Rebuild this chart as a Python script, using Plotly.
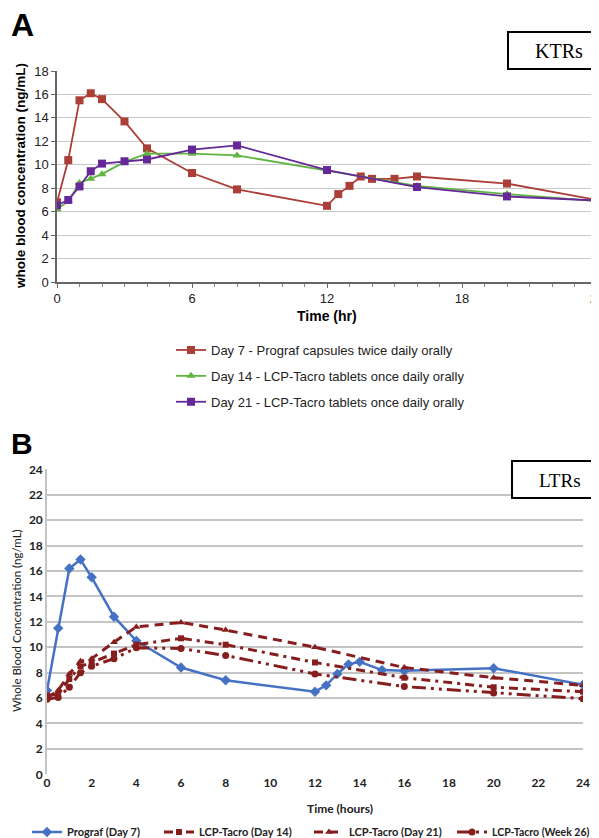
import plotly.graph_objects as go

# The page places the figure 8px in from the top-left corner of the window,
# so all reference pixel positions are converted with that offset.
OFF = 8
W, H = 599 - OFF, 838 - OFF
def px(x): return (x - OFF) / W
def py(y): return 1 - (y - OFF) / H

# ---------- Panel A data (KTRs) ----------
a_t_prograf = [0, 0.5, 1, 1.5, 2, 3, 4, 6, 8, 12, 12.5, 13, 13.5, 14, 15, 16, 20, 24]
a_c_prograf = [6.8, 10.4, 15.5, 16.1, 15.6, 13.7, 11.4, 9.3, 7.9, 6.5, 7.5, 8.2, 9.0, 8.8, 8.8, 9.0, 8.4, 7.0]
a_t_lcp = [0, 0.5, 1, 1.5, 2, 3, 4, 6, 8, 12, 16, 20, 24]
a_c_day14 = [6.2, 6.9, 8.45, 8.8, 9.2, 10.25, 10.95, 10.95, 10.8, 9.5, 8.2, 7.5, 6.9]
a_c_day21 = [6.55, 7.0, 8.15, 9.45, 10.1, 10.3, 10.45, 11.3, 11.65, 9.55, 8.1, 7.3, 6.95]
a_names = ["Day 7 - Prograf capsules twice daily orally",
           "Day 14 - LCP-Tacro tablets once daily orally",
           "Day 21 - LCP-Tacro tablets once daily orally"]

# ---------- Panel B data (LTRs) ----------
b_t_prograf = [0, 0.5, 1, 1.5, 2, 3, 4, 6, 8, 12, 12.5, 13, 13.5, 14, 15, 16, 20, 24]
b_c_prograf = [6.6, 11.5, 16.2, 16.9, 15.5, 12.4, 10.5, 8.4, 7.4, 6.5, 7.0, 7.9, 8.65, 8.85, 8.2, 8.15, 8.35, 7.05]
b_t_lcp = [0, 0.5, 1, 1.5, 2, 3, 4, 6, 8, 12, 16, 20, 24]
b_c_day14 = [6.2, 6.3, 7.5, 8.5, 8.8, 9.5, 10.2, 10.7, 10.2, 8.8, 7.6, 6.85, 6.5]
b_c_day21 = [6.0, 6.6, 7.9, 8.9, 9.1, 10.4, 11.6, 11.95, 11.35, 10.0, 8.4, 7.6, 7.0]
b_c_week26 = [5.9, 6.05, 6.85, 8.0, 8.5, 9.1, 9.95, 9.9, 9.35, 7.9, 6.9, 6.4, 5.95]
b_names = ["Prograf (Day 7)", "LCP-Tacro (Day 14)", "LCP-Tacro (Day 21)", "LCP-Tacro (Week 26)"]

RED_A = "rgb(172,62,56)"
GREEN_A = "rgb(96,180,64)"
PURPLE_A = "rgb(102,40,152)"
BLUE_B = "rgb(70,114,196)"
DRED_B = "rgb(135,30,30)"

fig = go.Figure()

# Panel A traces
fig.add_trace(go.Scatter(x=a_t_prograf, y=a_c_prograf, name=a_names[0], mode="lines+markers",
                         line=dict(color=RED_A, width=1.8), marker=dict(symbol="square", size=8, color=RED_A),
                         xaxis="x", yaxis="y", legend="legend", legendgroup="a1"))
fig.add_trace(go.Scatter(x=a_t_lcp, y=a_c_day14, name=a_names[1], mode="lines+markers",
                         line=dict(color=GREEN_A, width=1.8), marker=dict(symbol="triangle-up", size=8, color=GREEN_A),
                         xaxis="x", yaxis="y", legend="legend", legendgroup="a2"))
fig.add_trace(go.Scatter(x=a_t_lcp, y=a_c_day21, name=a_names[2], mode="lines+markers",
                         line=dict(color=PURPLE_A, width=1.8), marker=dict(symbol="square", size=8, color=PURPLE_A),
                         xaxis="x", yaxis="y", legend="legend", legendgroup="a3"))

# Panel B traces
fig.add_trace(go.Scatter(x=b_t_prograf, y=b_c_prograf, name=b_names[0], mode="lines+markers",
                         line=dict(color=BLUE_B, width=2.5), marker=dict(symbol="diamond", size=8, color=BLUE_B),
                         xaxis="x2", yaxis="y2", legend="legend2"))
fig.add_trace(go.Scatter(x=b_t_lcp, y=b_c_day14, name=b_names[1], mode="lines+markers",
                         line=dict(color=DRED_B, width=3, dash="9px,5px,3px,5px"),
                         marker=dict(symbol="square", size=6, color=DRED_B),
                         xaxis="x2", yaxis="y2", legend="legend3"))
fig.add_trace(go.Scatter(x=b_t_lcp, y=b_c_day21, name=b_names[2], mode="lines+markers",
                         line=dict(color=DRED_B, width=3, dash="9px,6px"),
                         marker=dict(symbol="triangle-up", size=7, color=DRED_B),
                         xaxis="x2", yaxis="y2", legend="legend4"))
fig.add_trace(go.Scatter(x=b_t_lcp, y=b_c_week26, name=b_names[3], mode="lines+markers",
                         line=dict(color=DRED_B, width=3, dash="14px,5px,3px,5px,3px,5px"),
                         marker=dict(symbol="circle", size=7, color=DRED_B),
                         xaxis="x2", yaxis="y2", legend="legend5"))

fontA = "Liberation Sans, Arial, sans-serif"
fontB = "Lato, Open Sans, sans-serif"

def b_legend(xpix, size=11):
    return dict(x=px(xpix), y=py(832), xref="container", yref="container",
                xanchor="left", yanchor="middle", orientation="h",
                font=dict(family=fontB, size=size, color="#222", weight="bold"),
                bgcolor="rgba(0,0,0,0)", itemwidth=30)

fig.update_layout(
    width=W, height=H, margin=dict(l=0, r=0, t=0, b=0, autoexpand=False),
    paper_bgcolor="white", plot_bgcolor="white",
    showlegend=True,
    xaxis=dict(domain=[px(57), px(597)], range=[0, 24], tickvals=[0, 6, 12, 18, 24],
               showgrid=False, zeroline=False, showline=True, linecolor="#666", linewidth=1.5,
               ticks="outside", ticklen=4, tickcolor="#666", ticklabeloverflow="allow",
               minor=dict(dtick=1, ticks="outside", ticklen=3, tickcolor="#888", showgrid=False),
               tickfont=dict(family=fontA, size=13, color="#222"), anchor="y", fixedrange=True),
    yaxis=dict(domain=[py(282), py(71)], range=[0, 18], dtick=2,
               showgrid=True, gridcolor="#c8c8c8", gridwidth=1.2, zeroline=False,
               showline=True, linecolor="#666", linewidth=1.5,
               ticks="outside", ticklen=4, tickcolor="#666", ticklabeloverflow="allow",
               tickfont=dict(family=fontA, size=13, color="#222"), anchor="x", fixedrange=True),
    xaxis2=dict(domain=[px(47), px(583)], range=[0, 24], dtick=2,
                showgrid=False, zeroline=False, showline=False, ticks="", ticklabeloverflow="allow",
                tickfont=dict(family=fontB, size=12, color="#222", weight="bold"), anchor="y2", fixedrange=True),
    yaxis2=dict(domain=[py(774.3), py(469.3)], range=[0, 24], dtick=2,
                showgrid=True, gridcolor="#c4c4c4", gridwidth=1.6, zeroline=False,
                showline=True, linecolor="#c4c4c4", linewidth=1.6, ticks="", ticklabeloverflow="allow",
                tickfont=dict(family=fontB, size=12, color="#222", weight="bold"), anchor="x2", fixedrange=True),
    legend=dict(x=px(171), y=py(335), xref="container", yref="container",
                xanchor="left", yanchor="top", orientation="v",
                font=dict(family=fontA, size=13, color="#222"), tracegroupgap=6,
                bgcolor="rgba(0,0,0,0)", itemwidth=30),
    legend2=b_legend(27),
    legend3=b_legend(159),
    legend4=b_legend(309),
    legend5=b_legend(452, 10.5),
)

shapes = [
    dict(type="rect", xref="paper", yref="paper", x0=px(508), x1=px(612), y0=py(69), y1=py(32),
         line=dict(color="black", width=2), fillcolor="white", layer="above"),
    dict(type="rect", xref="paper", yref="paper", x0=px(512), x1=px(612), y0=py(498), y1=py(461),
         line=dict(color="black", width=2), fillcolor="white", layer="above"),
]
fig.update_layout(shapes=shapes)

annotations = [
    dict(text="<b>A</b>", x=px(9), y=py(25), xref="paper", yref="paper", xanchor="left", yanchor="middle",
         showarrow=False, font=dict(family=fontA, size=32, color="black")),
    dict(text="<b>B</b>", x=px(9), y=py(443), xref="paper", yref="paper", xanchor="left", yanchor="middle",
         showarrow=False, font=dict(family=fontA, size=30, color="black")),
    dict(text="KTRs", x=px(559), y=py(51), xref="paper", yref="paper", xanchor="center", yanchor="middle",
         showarrow=False, font=dict(family="Liberation Serif, Times New Roman, serif", size=20, color="black")),
    dict(text="LTRs", x=px(560), y=py(480), xref="paper", yref="paper", xanchor="center", yanchor="middle",
         showarrow=False, font=dict(family="Liberation Serif, Times New Roman, serif", size=19, color="black")),
    dict(text="<b>whole blood concentration (ng/mL)</b>", x=px(20), y=py(176), xref="paper", yref="paper",
         xanchor="center", yanchor="middle", textangle=-90, showarrow=False,
         font=dict(family=fontA, size=13.5, color="black")),
    dict(text="<b>Time (hr)</b>", x=px(327), y=py(316), xref="paper", yref="paper",
         xanchor="center", yanchor="middle", showarrow=False,
         font=dict(family=fontA, size=14, color="black")),
    dict(text="Whole Blood Concentration (ng/mL)", x=px(16), y=py(621), xref="paper", yref="paper",
         xanchor="center", yanchor="middle", textangle=-90, showarrow=False,
         font=dict(family=fontB, size=11.5, color="#222")),
    dict(text="<b>Time (hours)</b>", x=px(340), y=py(808), xref="paper", yref="paper",
         xanchor="center", yanchor="middle", showarrow=False,
         font=dict(family=fontB, size=12, color="#222")),
]
fig.update_layout(annotations=annotations)

fig.write_html("out.html")
